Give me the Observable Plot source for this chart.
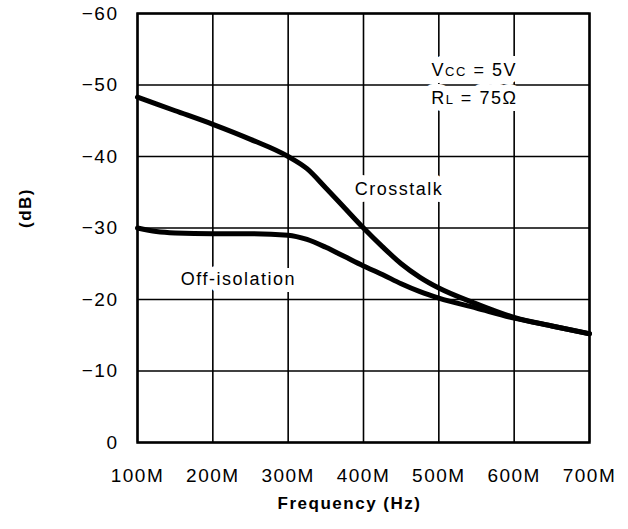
<!DOCTYPE html>
<html>
<head>
<meta charset="utf-8">
<script src="https://cdn.jsdelivr.net/npm/d3@7"></script>
<script src="https://cdn.jsdelivr.net/npm/@observablehq/plot@0.6"></script>
<style>
  html, body { margin: 0; padding: 0; background: white; }
</style>
</head>
<body>
<div id="chart"></div>
<script>
// Frequency in MHz
const crossFreq = [100, 150, 200, 250, 300, 325, 350, 375, 400, 425, 450, 475, 500, 550, 600, 650, 700];
const crossDb   = [-48.3, -46.4, -44.5, -42.4, -40.0, -38.3, -35.6, -32.8, -30.0, -27.4, -25.0, -23.1, -21.6, -19.4, -17.5, -16.3, -15.2];
const offFreq = [100, 125, 150, 200, 250, 300, 325, 350, 375, 400, 425, 450, 475, 500, 550, 600, 650, 700];
const offDb   = [-30.0, -29.5, -29.3, -29.2, -29.2, -29.0, -28.4, -27.3, -26.0, -24.7, -23.5, -22.2, -21.1, -20.2, -18.8, -17.4, -16.3, -15.2];
const xTicks = [100, 200, 300, 400, 500, 600, 700];
const yTicks = [0, -10, -20, -30, -40, -50, -60];
const noteText = ["Crosstalk", "Off-isolation", "VCC = 5V", "RL = 75Ω"];
const noteFreq = [447, 234, 547, 547];
const noteDb = [-35.4, -22.8, -52.0, -48.1];

const crosstalk = crossFreq.map((f, i) => ({f, db: crossDb[i]}));
const offIso = offFreq.map((f, i) => ({f, db: offDb[i]}));
const notes = noteText.map((t, i) => ({t, f: noteFreq[i], db: noteDb[i]}));

const chart = Plot.plot({
  width: 628,
  height: 529,
  marginLeft: 137,
  marginRight: 39,
  marginTop: 13,
  marginBottom: 87,
  x: {domain: [100, 700]},
  y: {domain: [0, -60]},
  style: {fontFamily: "'Liberation Sans', Arial, Helvetica, sans-serif", fontSize: "18px", background: "white", color: "black", letterSpacing: "1.5px"},
  marks: [
    Plot.gridX(xTicks, {stroke: "black", strokeOpacity: 1, strokeWidth: 1.6}),
    Plot.gridY(yTicks, {stroke: "black", strokeOpacity: 1, strokeWidth: 1.6}),
    Plot.axisX(xTicks, {tickSize: 0, tickPadding: 26, tickFormat: d => d + "M", label: null, fontSize: 19}),
    Plot.axisY(yTicks, {tickSize: 0, tickPadding: 19, tickFormat: d => d === 0 ? "0" : "\u2212" + Math.abs(d), label: null, fontSize: 19}),
    Plot.frame({stroke: "black", strokeWidth: 2.5}),
    Plot.line(offIso, {x: "f", y: "db", curve: "monotone-x", stroke: "black", strokeWidth: 5}),
    Plot.line(crosstalk, {x: "f", y: "db", curve: "monotone-x", stroke: "black", strokeWidth: 5}),
    Plot.text(notes, {x: "f", y: "db", text: "t", fill: "white", stroke: "white", strokeWidth: 14, fontSize: 18}),
    Plot.text(notes, {x: "f", y: "db", text: "t", fill: "black", fontSize: 18}),
    Plot.text(["(dB)"], {frameAnchor: "left", dx: -112, rotate: -90, fontWeight: "bold", fontSize: 17}),
    Plot.text(["Frequency (Hz)"], {frameAnchor: "bottom", dy: 66, dx: -14, fontWeight: "bold", fontSize: 17})
  ]
});

// small-caps subscripts in the condition note
d3.select(chart).selectAll("text").each(function() {
  const s = this.textContent;
  let parts = null;
  if (s === "VCC = 5V") parts = [["V", null], ["CC", 13], [" = 5V", null]];
  if (s === "RL = 75Ω") parts = [["R", null], ["L", 13], [" = 75Ω", null]];
  if (parts) {
    const el = d3.select(this);
    el.text(null);
    for (const [txt, fs] of parts) {
      const ts = el.append("tspan").text(txt);
      if (fs) ts.attr("font-size", fs);
    }
  }
});

document.getElementById("chart").appendChild(chart);
</script>
</body>
</html>
